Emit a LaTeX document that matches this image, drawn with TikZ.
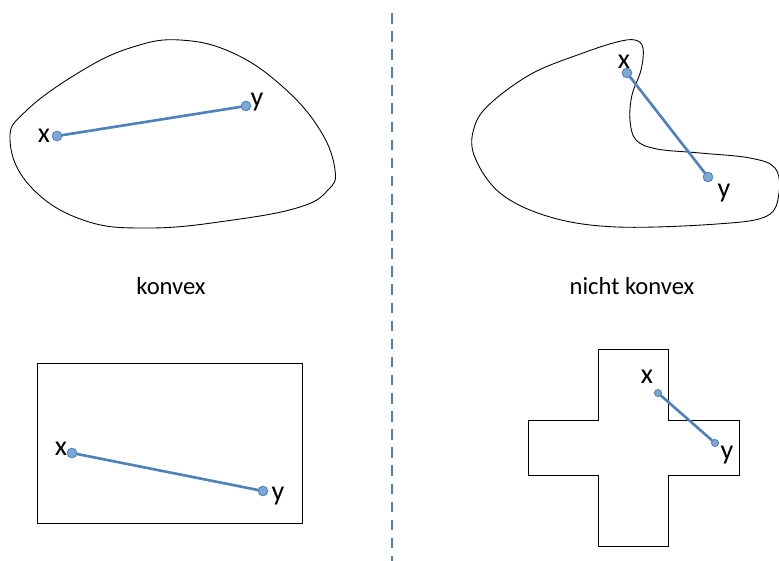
\documentclass[tikz,border=0pt]{standalone}
\usepackage{fontspec}
\setmainfont{Carlito}
\usepackage{xcolor}
\usetikzlibrary{positioning}
\definecolor{segblue}{RGB}{79,129,189}
\definecolor{dotblue}{RGB}{125,167,217}

\begin{document}
\begin{tikzpicture}[x=0.02cm,y=-0.02cm,
    font=\fontsize{16}{19}\selectfont,
    menge/.style={draw=black,line width=0.5pt},
    strecke/.style={draw=segblue,line width=1.5pt},
    punkt/.style={circle,fill=dotblue,draw=segblue,line width=0.5pt,inner sep=0pt,minimum size=5.5pt},
    lab/.style={inner sep=0pt},
    titel/.style={inner sep=0pt,font=\fontsize{14}{17}\selectfont}]
    \useasboundingbox (0,0) rectangle (779,561);

    % Trennlinie
    \coordinate (oben) at (392,13);
    \coordinate (unten) at (392,561);
    \draw[segblue, line width=1.5pt, dash pattern=on 6pt off 4.3pt] (oben) -- (unten);

    % konvexe Menge
    \draw[menge] plot[smooth cycle, tension=0.7] coordinates {(133,47) (180,40) (233,53) (283,87) (320,130) (335,170) (328,190) (300,207) (233,220) (150,228) (83,220) (30,186) (10,140) (27,110) (83,70)};
    \coordinate (x1) at (57,136);
    \coordinate (y1) at (246,106);
    \draw[strecke] (x1) -- (y1);
    \node[punkt] (px1) at (x1) {};
    \node[punkt] (py1) at (y1) {};
    \node[lab] (lx1) at (44,136) {x};
    \node[lab] (ly1) at (257,102) {y};
    \node[titel] (konvex) at (171,286) {konvex};

    % nicht konvexe Menge
    \draw[menge] plot[smooth cycle, tension=0.6] coordinates {(533,73) (583,53) (617,42) (635,40) (643,48) (641,70) (632,95) (630,120) (636,140) (657,149) (700,153) (750,158) (775,168) (779,193) (767,216) (717,224) (617,227) (550,217) (500,193) (474,155) (475,125) (492,102)};
    \coordinate (x2) at (627,73);
    \coordinate (y2) at (708,177);
    \draw[strecke] (x2) -- (y2);
    \node[punkt] (px2) at (x2) {};
    \node[punkt] (py2) at (y2) {};
    \node[lab] (lx2) at (624,62) {x};
    \node[lab] (ly2) at (724,193) {y};
    \node[titel] (nkonvex) at (632,286) {nicht konvex};

    % Rechteck
    \draw[menge] (37,363) rectangle (302,523);
    \coordinate (x3) at (72,453);
    \coordinate (y3) at (263,491);
    \draw[strecke] (x3) -- (y3);
    \node[punkt] (px3) at (x3) {};
    \node[punkt] (py3) at (y3) {};
    \node[lab] (lx3) at (61,449) {x};
    \node[lab] (ly3) at (278,496) {y};

    % Kreuz
    \draw[menge] (598,349) -- (668,349) -- (668,420) -- (739,420) -- (739,475) -- (668,475) -- (668,546) -- (598,546) -- (598,475) -- (528,475) -- (528,420) -- (598,420) -- cycle;
    \coordinate (x4) at (658,393);
    \coordinate (y4) at (715,443);
    \draw[strecke] (x4) -- (y4);
    \node[punkt, minimum size=4pt] (px4) at (x4) {};
    \node[punkt, minimum size=4pt] (py4) at (y4) {};
    \node[lab] (lx4) at (647,377) {x};
    \node[lab] (ly4) at (727,455) {y};
\end{tikzpicture}
\end{document}
